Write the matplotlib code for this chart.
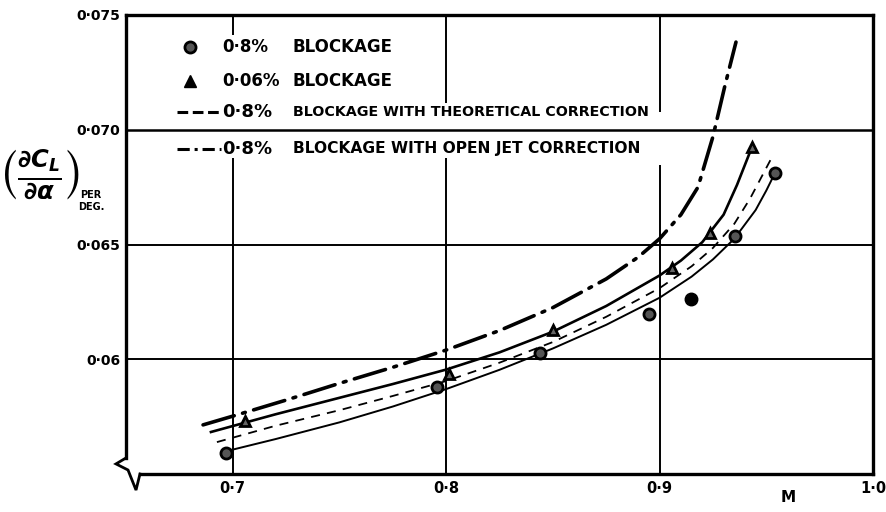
import numpy as np
import matplotlib.pyplot as plt

plt.rcParams['font.family'] = ['DejaVu Sans']
plt.rcParams['font.weight'] = 'bold'

# ---------------- data ---------------- #
# Mach number and lift slope (per degree)
mach_open_jet = [0.6861, 0.700, 0.725, 0.750, 0.775, 0.800, 0.825, 0.850,
                 0.875, 0.890, 0.900, 0.910, 0.918, 0.925, 0.9307, 0.9358]
slope_open_jet = [0.05714, 0.05752, 0.05822, 0.05895, 0.05965, 0.06040, 0.06125,
                  0.06225, 0.06350, 0.06445, 0.06525, 0.06630, 0.06750, 0.06970,
                  0.07195, 0.07382]

mach_small = [0.6898, 0.720, 0.750, 0.775, 0.800, 0.825, 0.850, 0.875,
              0.900, 0.910, 0.920, 0.930, 0.9363, 0.9433]
slope_small = [0.05683, 0.05760, 0.05832, 0.05892, 0.05955, 0.06030, 0.06120,
               0.06232, 0.06365, 0.06430, 0.06510, 0.06630, 0.06760, 0.06925]

mach_theory = [0.6926, 0.720, 0.750, 0.775, 0.800, 0.825, 0.850, 0.875,
               0.900, 0.915, 0.925, 0.935, 0.9424, 0.9532]
slope_theory = [0.05639, 0.05710, 0.05778, 0.05840, 0.05905, 0.05985, 0.06075,
                0.06185, 0.06310, 0.06405, 0.06485, 0.06590, 0.06700, 0.06890]

mach_large = [0.6955, 0.720, 0.750, 0.775, 0.800, 0.825, 0.850, 0.875,
              0.900, 0.915, 0.925, 0.935, 0.945, 0.950, 0.9541]
slope_large = [0.05596, 0.05652, 0.05725, 0.05794, 0.05870, 0.05954, 0.06047,
               0.06150, 0.06268, 0.06360, 0.06435, 0.06525, 0.06650, 0.06735,
               0.06812]

# test points
circle_m = [0.6969, 0.7957, 0.8440, 0.8951, 0.9354, 0.9541]
circle_v = [0.05592, 0.05879, 0.06027, 0.06197, 0.06537, 0.06812]
solid_dot_m = [0.9148]
solid_dot_v = [0.06263]
tri_m = [0.7058, 0.8014, 0.8501, 0.9059, 0.9237, 0.9433]
tri_v = [0.05731, 0.05936, 0.06127, 0.06398, 0.06550, 0.06925]

xticks = [0.7, 0.8, 0.9, 1.0]
xtick_labels = ["0·7", "0·8", "0·9", "1·0"]
yticks = [0.06, 0.065, 0.07, 0.075]
ytick_labels = ["0·06", "0·065", "0·070", "0·075"]

# ---------------- figure ---------------- #
fig = plt.figure(figsize=(8.87, 5.12), dpi=100)
ax = fig.add_axes([126 / 887, 38 / 512, 747 / 887, 459 / 512])
ax.set_xlim(0.65, 1.0)
ax.set_ylim(0.055, 0.075)

# grid, vertical lines broken where the key is lettered
ax.hlines([0.06, 0.065], 0.65, 1.0, color='black', lw=1.4, zorder=1)
ax.hlines([0.07], 0.65, 1.0, color='black', lw=1.8, zorder=1)
vgrid = [(0.7, 0.07413, 0.06877), (0.8, 0.07117, 0.06877), (0.9, 0.07077, 0.06846)]
for xg, top_end, low_start in vgrid:
    ax.vlines(xg, top_end, 0.075, color='black', lw=1.4, zorder=1)
    ax.vlines(xg, 0.055, low_start, color='black', lw=1.4, zorder=1)

# curves
ax.plot(mach_open_jet, slope_open_jet, color='black', lw=2.6,
        linestyle=(0, (9, 2.4, 0.8, 2.4)), solid_capstyle='round',
        dash_capstyle='round', zorder=3)
ax.plot(mach_small, slope_small, color='black', lw=1.9, zorder=3)
ax.plot(mach_theory, slope_theory, color='black', lw=1.3,
        linestyle=(0, (5, 4)), zorder=3)
ax.plot(mach_large, slope_large, color='black', lw=1.4, zorder=3)

# points
ax.plot(circle_m, circle_v, 'o', ms=8, mfc='#555555', mec='black', mew=2.0, zorder=4)
ax.plot(solid_dot_m, solid_dot_v, 'o', ms=9, color='black', zorder=4)
ax.plot(tri_m, tri_v, '^', ms=7, mfc='#666666', mec='black', mew=2.0, zorder=4)

# frame
for side in ['top', 'right', 'left', 'bottom']:
    ax.spines[side].set_linewidth(2.4)
ax.spines['left'].set_bounds(0.0557, 0.075)
ax.spines['bottom'].set_bounds(0.6566, 1.0)
# axis break mark at the origin
brk_x = [0.0, -0.0134, 0.0027, 0.0134, 0.0187]
brk_y = [0.035, 0.022, 0.0087, -0.035, 0.0]
ax.plot(brk_x, brk_y, color='black', lw=2.0, transform=ax.transAxes,
        clip_on=False, solid_joinstyle='miter')

ax.set_xticks(xticks)
ax.set_xticklabels(xtick_labels, fontsize=10.5, fontweight='bold')
ax.set_yticks(yticks)
ax.set_yticklabels(ytick_labels, fontsize=10, fontweight='bold')
ax.tick_params(length=0, pad=4)
ax.tick_params(axis='x', pad=5)

ax.text(788 / 887, (512 - 498) / 512, "M", transform=fig.transFigure,
        fontsize=11, fontweight='bold', ha='center', va='center')

# y-axis quantity
fig.text(40 / 887, (512 - 174) / 512,
         r"$\left(\frac{\partial C_L}{\partial \alpha}\right)$",
         fontsize=25, ha='center', va='center')
fig.text(80 / 887, (512 - 195) / 512, "PER", fontsize=7, fontweight='bold',
         ha='left', va='center')
fig.text(78 / 887, (512 - 207) / 512, "DEG.", fontsize=7, fontweight='bold',
         ha='left', va='center')

# key
def ax_x(px):
    return (px - 126) / 747


def ax_y(py):
    return (474 - py) / 459


ax.plot([ax_x(190)], [ax_y(47)], 'o', ms=8, mfc='#555555', mec='black', mew=2.0,
        transform=ax.transAxes)
ax.plot([ax_x(190)], [ax_y(81)], '^', ms=8, color='black', transform=ax.transAxes)
ax.plot([ax_x(177), ax_x(221)], [ax_y(112), ax_y(112)], color='black', lw=2.2,
        linestyle=(0, (3.5, 1.5)), transform=ax.transAxes)
ax.plot([ax_x(177), ax_x(221)], [ax_y(149), ax_y(149)], color='black', lw=2.2,
        linestyle=(0, (4, 1.6, 1, 1.6)), transform=ax.transAxes)

key_rows = [
    (47, "0·8%", "BLOCKAGE", 12, 12),
    (81, "0·06%", "BLOCKAGE", 12, 12),
    (112, "0·8%", "BLOCKAGE WITH THEORETICAL CORRECTION", 13, 10.3),
    (149, "0·8%", "BLOCKAGE WITH OPEN JET CORRECTION", 13, 11.2),
]
for py, pct, words, size_pct, size_words in key_rows:
    ax.text(ax_x(222), ax_y(py), pct, transform=ax.transAxes, fontsize=size_pct,
            fontweight='bold', ha='left', va='center')
    ax.text(ax_x(293), ax_y(py), words, transform=ax.transAxes,
            fontsize=size_words, fontweight='bold', ha='left', va='center')

fig.savefig("out.png", dpi=100)
